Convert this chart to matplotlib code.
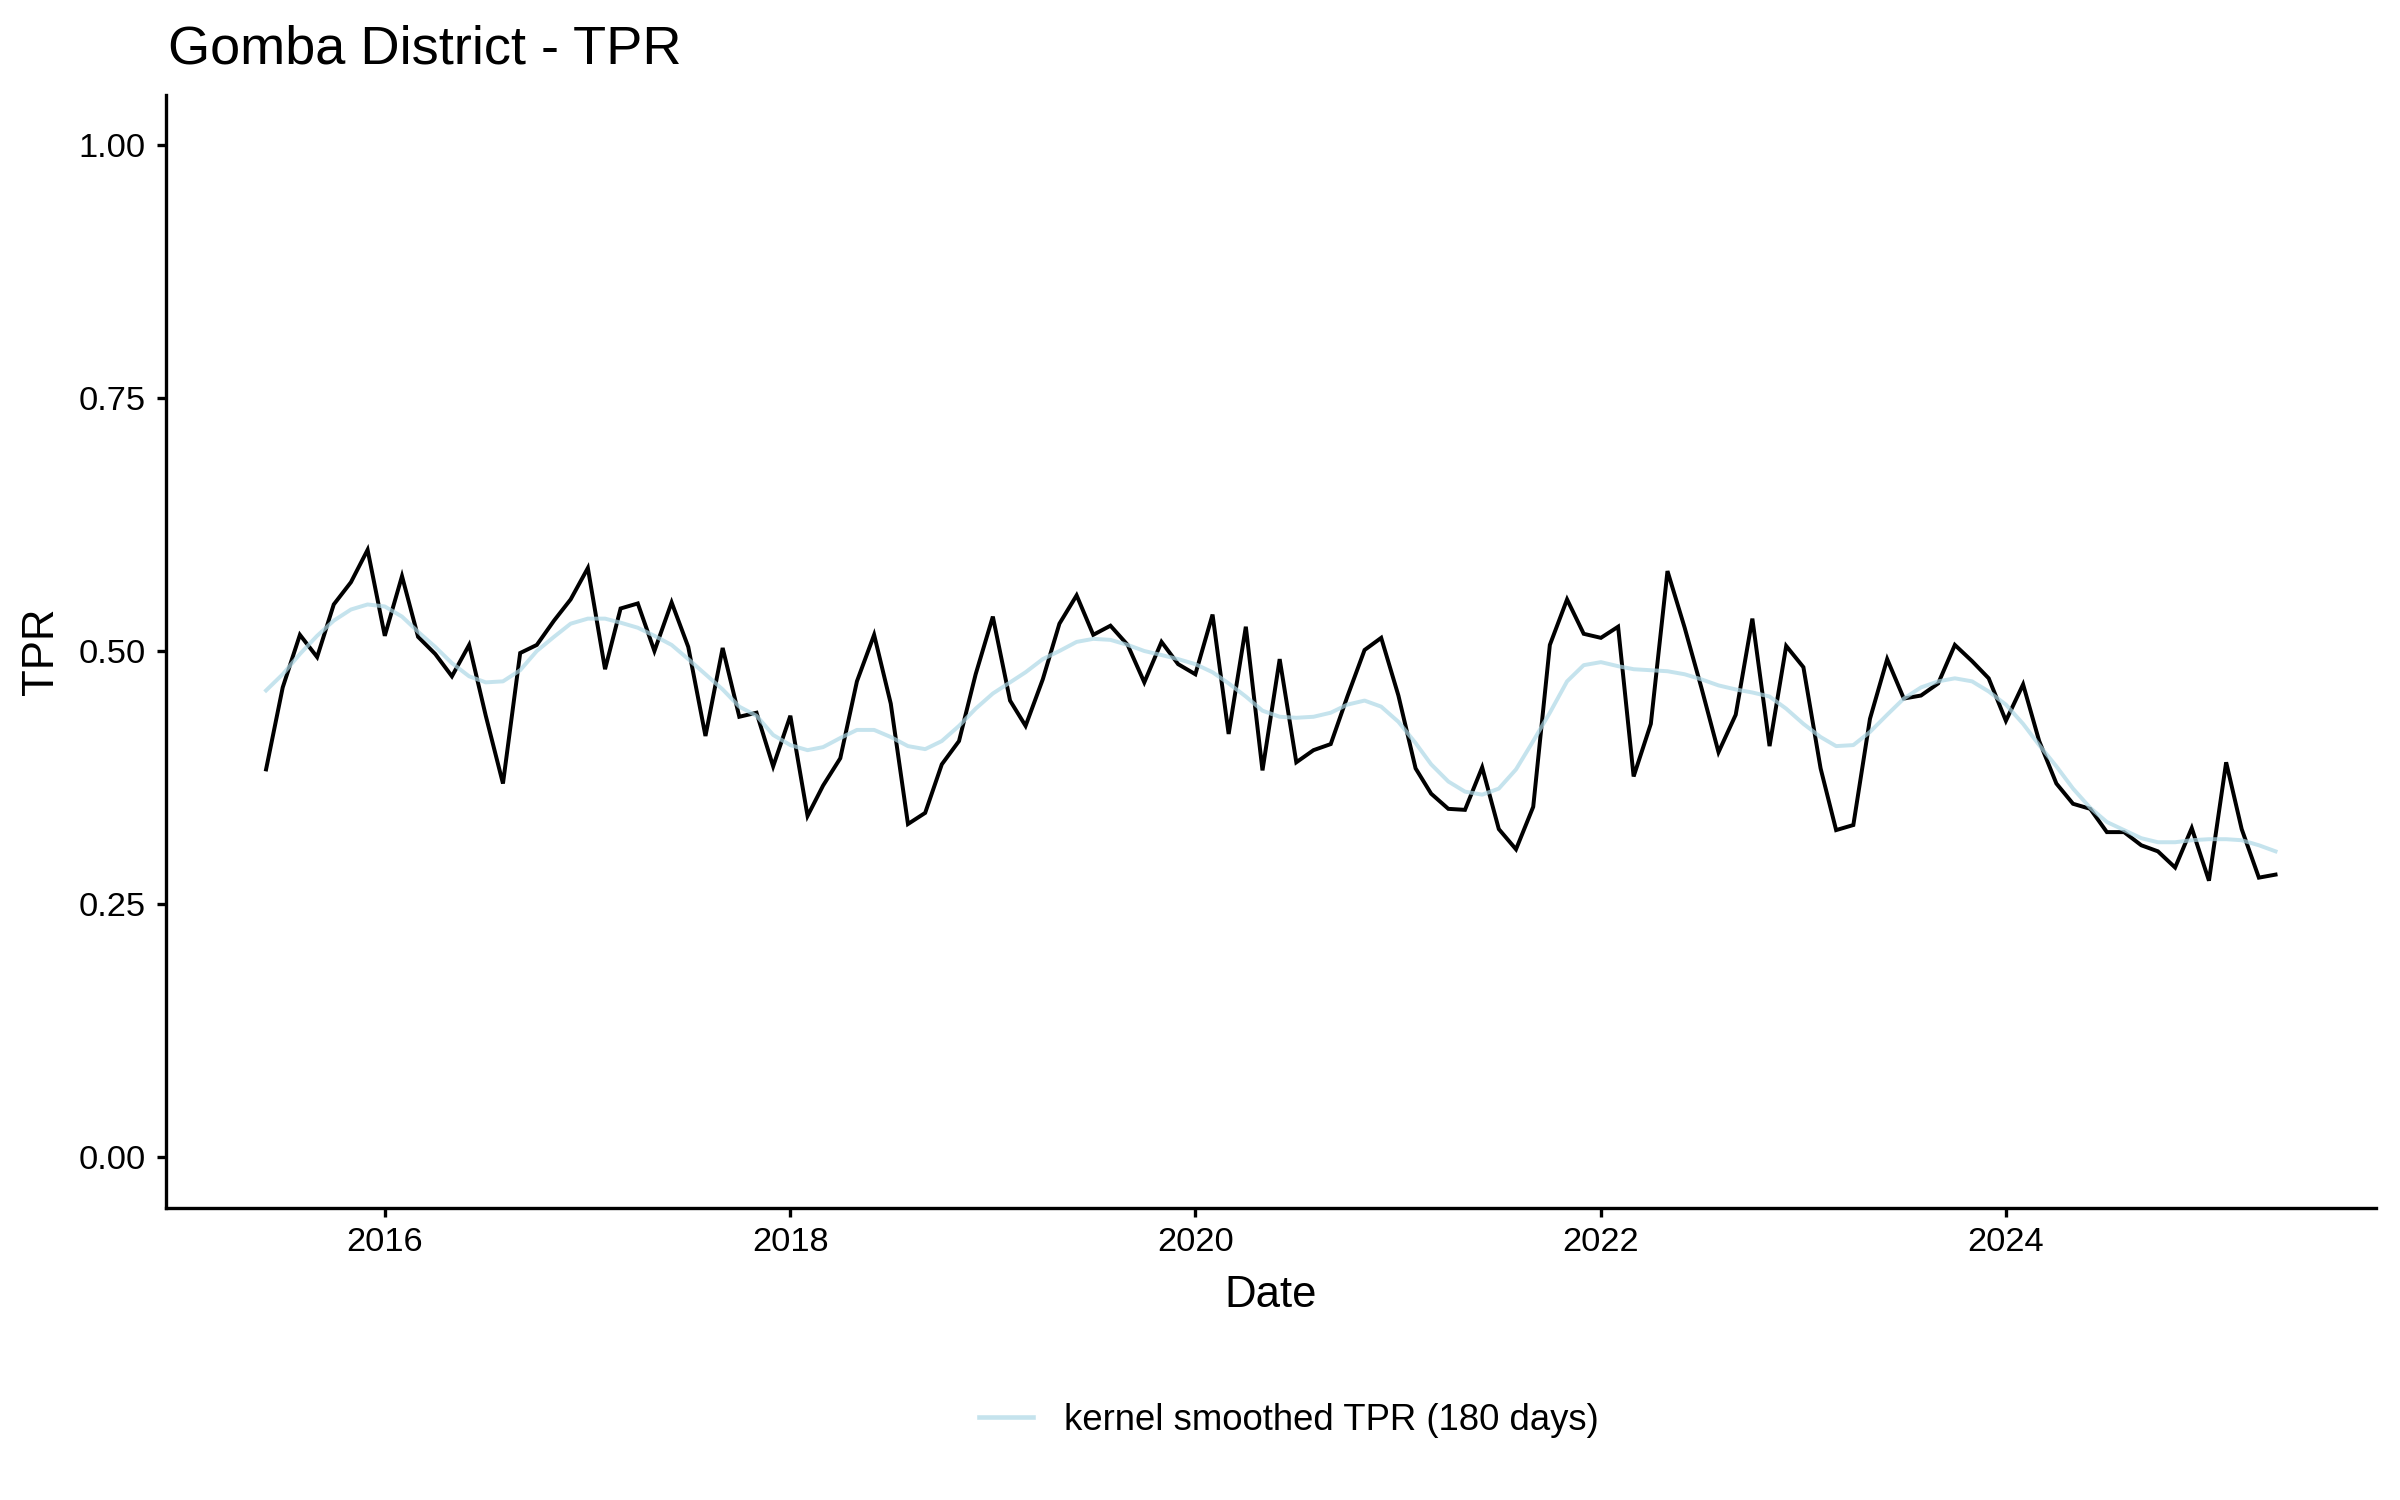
import matplotlib
matplotlib.use("Agg")
import matplotlib.pyplot as plt
import matplotlib.dates as mdates
import pandas as pd

plt.rcParams['font.family'] = ['Liberation Sans', 'DejaVu Sans']

# ---- data ----
start_month = "2015-06-01"
n_months = 120

tpr = [
    0.383, 0.464, 0.516, 0.494, 0.546, 0.568, 0.600, 0.515, 0.574, 0.514, 0.497, 0.475,
    0.506, 0.436, 0.369, 0.498, 0.506, 0.530,
    0.551, 0.582, 0.482, 0.542, 0.547, 0.500, 0.548, 0.504, 0.416, 0.503, 0.435, 0.439,
    0.386, 0.436, 0.337, 0.367, 0.394, 0.470, 0.516, 0.448, 0.329, 0.340,
    0.388, 0.411, 0.477, 0.534, 0.451, 0.426, 0.472, 0.527, 0.555, 0.516, 0.525, 0.506,
    0.469, 0.509, 0.487, 0.477, 0.536, 0.418, 0.524, 0.382, 0.492, 0.390, 0.402,
    0.408, 0.455, 0.501, 0.513, 0.456, 0.384, 0.359, 0.344, 0.343, 0.385, 0.324, 0.304,
    0.346, 0.506, 0.551, 0.517, 0.513, 0.524, 0.376, 0.428, 0.579, 0.523,
    0.464, 0.400, 0.437, 0.532, 0.406, 0.505, 0.484, 0.384, 0.323, 0.328, 0.433, 0.492,
    0.453, 0.456, 0.468, 0.506, 0.490, 0.473, 0.431, 0.467, 0.411, 0.369, 0.349,
    0.344, 0.321, 0.321, 0.308, 0.302, 0.286, 0.325, 0.273, 0.390, 0.324, 0.276, 0.279,
]

tpr_smooth = [
    0.461, 0.477, 0.497, 0.515, 0.530, 0.541, 0.546, 0.544, 0.534, 0.519, 0.504, 0.488,
    0.475, 0.469, 0.470, 0.481, 0.500, 0.514,
    0.527, 0.532, 0.532, 0.528, 0.523, 0.515, 0.506, 0.492, 0.477, 0.462, 0.445, 0.436,
    0.417, 0.407, 0.402, 0.405, 0.414, 0.422, 0.422, 0.415, 0.406, 0.403,
    0.411, 0.426, 0.443, 0.458, 0.469, 0.479, 0.492, 0.500, 0.509, 0.512, 0.511, 0.506,
    0.500, 0.496, 0.492, 0.487, 0.479, 0.468, 0.455, 0.441, 0.435, 0.434, 0.435,
    0.439, 0.447, 0.451, 0.445, 0.430, 0.409, 0.388, 0.371, 0.361, 0.358, 0.364, 0.383,
    0.411, 0.439, 0.470, 0.486, 0.489, 0.485, 0.482, 0.481, 0.480, 0.477,
    0.472, 0.466, 0.462, 0.459, 0.455, 0.443, 0.428, 0.415, 0.406, 0.407, 0.420, 0.437,
    0.453, 0.464, 0.470, 0.473, 0.470, 0.460, 0.447, 0.428, 0.407, 0.386, 0.364,
    0.345, 0.331, 0.323, 0.315, 0.311, 0.311, 0.313, 0.314, 0.314, 0.313, 0.308, 0.302,
]

y_ticks = [0.0, 0.25, 0.5, 0.75, 1.0]
y_tick_labels = ["0.00", "0.25", "0.50", "0.75", "1.00"]
x_tick_years = [2016, 2018, 2020, 2022, 2024]

title = "Gomba District - TPR"
x_label = "Date"
y_label = "TPR"
legend_label = "kernel smoothed TPR (180 days)"

dates = pd.date_range(start_month, periods=n_months, freq="MS")

# ---- figure ----
fig = plt.figure(figsize=(16, 10), dpi=150)
ax = fig.add_axes([0.069, 0.195, 0.921, 0.742])

ax.plot(dates, tpr, color="black", lw=1.9, solid_joinstyle="miter", zorder=2)
ax.plot(dates, tpr_smooth, color="#add8e6", alpha=0.7, lw=1.9, zorder=3,
        label=legend_label)

span = dates[-1] - dates[0]
ax.set_xlim(dates[0] - span * 0.05, dates[-1] + span * 0.05)
ax.set_ylim(-0.05, 1.05)

ax.set_yticks(y_ticks)
ax.set_yticklabels(y_tick_labels)
ax.set_xticks([pd.Timestamp(f"{y}-01-01") for y in x_tick_years])
ax.xaxis.set_major_formatter(mdates.DateFormatter("%Y"))

for s in ["top", "right"]:
    ax.spines[s].set_visible(False)
for s in ["left", "bottom"]:
    ax.spines[s].set_linewidth(1.6)
    ax.spines[s].set_color("black")

ax.tick_params(axis="both", which="major", length=4.5, width=1.6, color="black",
               labelsize=16.5, labelcolor="black", pad=5)

ax.set_xlabel(x_label, fontsize=21, labelpad=8)
ax.set_ylabel(y_label, fontsize=21, labelpad=8)

fig.text(0.0702, 0.967, title, fontsize=26, ha="left", va="center")

leg = fig.legend(loc="center", bbox_to_anchor=(0.537, 0.053), frameon=False,
                 fontsize=17.5, handlelength=1.5, handletextpad=0.85)
for h in leg.get_lines():
    h.set_linewidth(2.2)

fig.savefig("out.png", dpi=150, facecolor="white")
